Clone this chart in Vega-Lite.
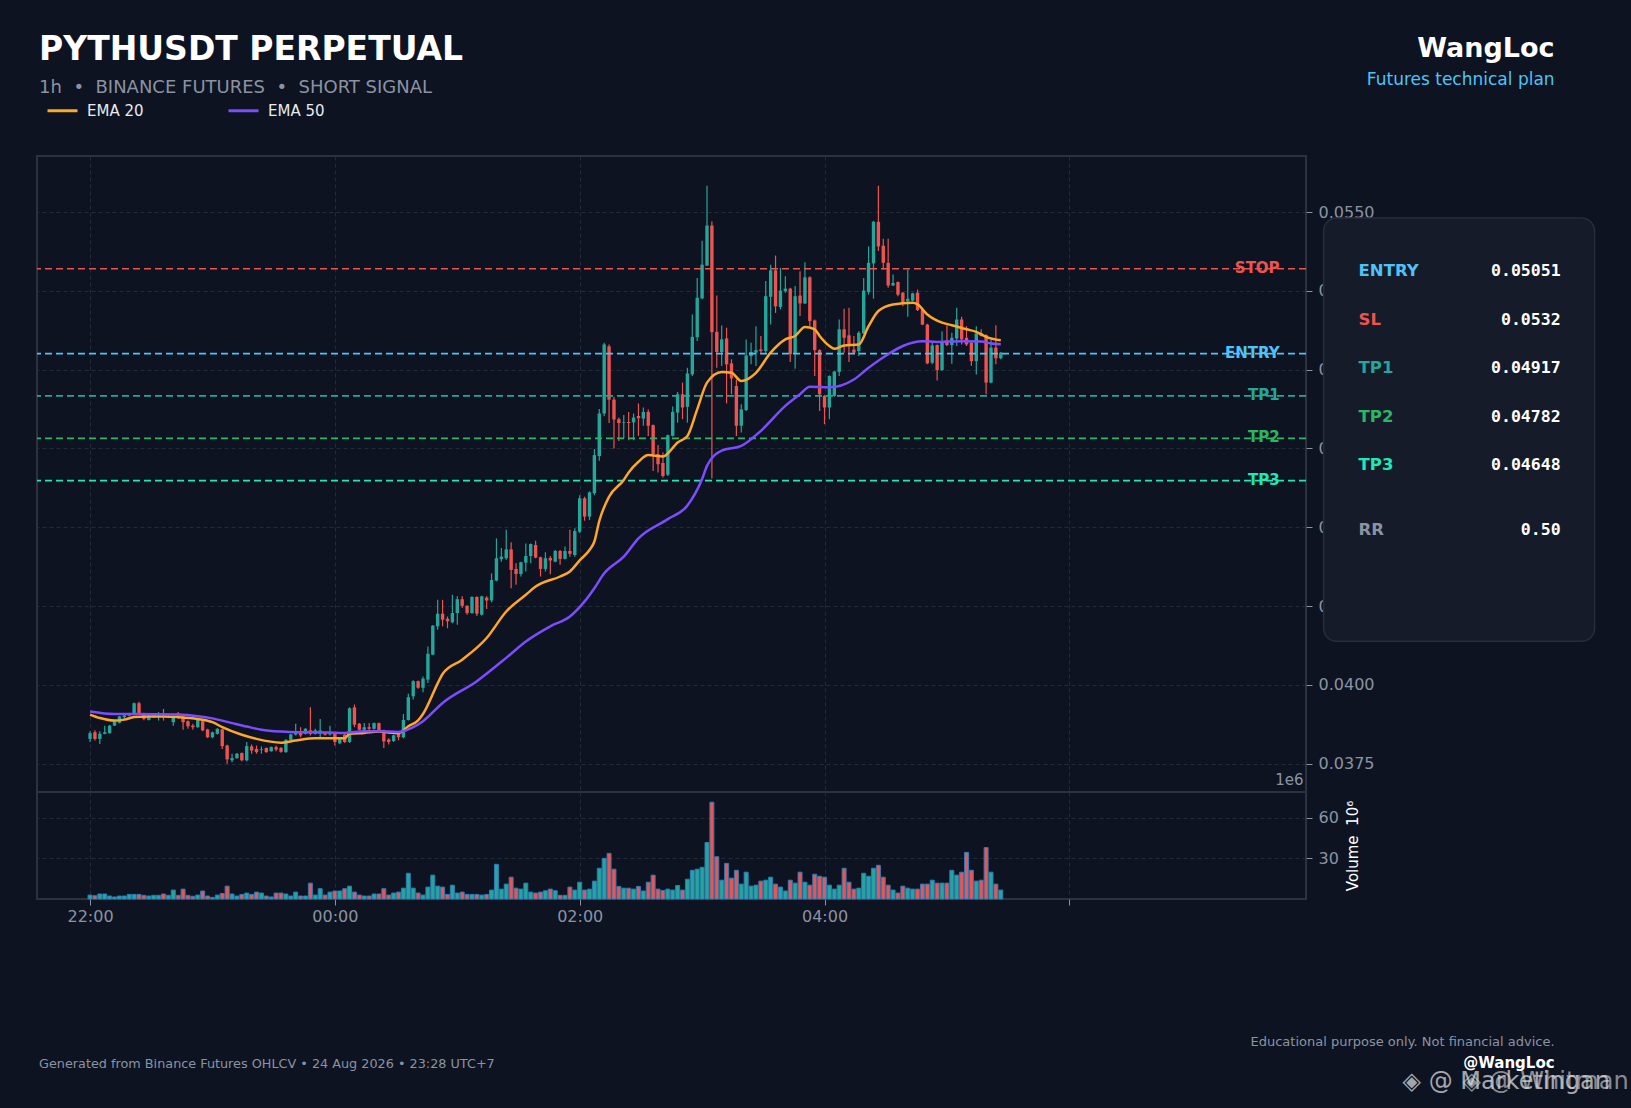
{
  "$schema": "https://vega.github.io/schema/vega-lite/v6.json",
  "background": "#0d1321",
  "padding": {"left": 35, "top": 32, "right": 2, "bottom": 14},
  "config": {
    "font": "DejaVu Sans",
    "view": {"stroke": "#2b3240", "strokeWidth": 2},
    "axis": {
      "domain": false,
      "gridColor": "#232a38",
      "gridDash": [4, 3],
      "labelColor": "#8b93a3",
      "labelFontSize": 16,
      "tickColor": "#8b93a3",
      "tickSize": 6,
      "labelPadding": 6,
      "titleColor": "#ffffff",
      "titleFontWeight": "normal"
    }
  },
  "datasets": {
    "candles": [
      {"t":"2026-08-24T22:00:00Z","o":0.03829,"h":0.03853,"l":0.03819,"c":0.03847,"v":2.9},
      {"t":"2026-08-24T22:02:24Z","o":0.03850,"h":0.03856,"l":0.03824,"c":0.03829,"v":2.4},
      {"t":"2026-08-24T22:04:48Z","o":0.03829,"h":0.03853,"l":0.03813,"c":0.03845,"v":3.7},
      {"t":"2026-08-24T22:07:12Z","o":0.03845,"h":0.03871,"l":0.03844,"c":0.03850,"v":3.7},
      {"t":"2026-08-24T22:09:36Z","o":0.03847,"h":0.03873,"l":0.03846,"c":0.03871,"v":2.2},
      {"t":"2026-08-24T22:12:00Z","o":0.03871,"h":0.03887,"l":0.03870,"c":0.03885,"v":1.5},
      {"t":"2026-08-24T22:14:24Z","o":0.03880,"h":0.03902,"l":0.03878,"c":0.03900,"v":2.2},
      {"t":"2026-08-24T22:16:48Z","o":0.03898,"h":0.03908,"l":0.03892,"c":0.03903,"v":2.2},
      {"t":"2026-08-24T22:19:12Z","o":0.03903,"h":0.03912,"l":0.03900,"c":0.03908,"v":3.4},
      {"t":"2026-08-24T22:21:36Z","o":0.03908,"h":0.03944,"l":0.03905,"c":0.03942,"v":3.4},
      {"t":"2026-08-24T22:24:00Z","o":0.03942,"h":0.03947,"l":0.03906,"c":0.03910,"v":3.4},
      {"t":"2026-08-24T22:26:24Z","o":0.03910,"h":0.03912,"l":0.03888,"c":0.03892,"v":2.7},
      {"t":"2026-08-24T22:28:48Z","o":0.03889,"h":0.03906,"l":0.03887,"c":0.03903,"v":2.2},
      {"t":"2026-08-24T22:31:12Z","o":0.03898,"h":0.03910,"l":0.03895,"c":0.03908,"v":2.7},
      {"t":"2026-08-24T22:33:36Z","o":0.03902,"h":0.03914,"l":0.03887,"c":0.03904,"v":2.7},
      {"t":"2026-08-24T22:36:00Z","o":0.03908,"h":0.03924,"l":0.03887,"c":0.03903,"v":3.7},
      {"t":"2026-08-24T22:38:24Z","o":0.03899,"h":0.03905,"l":0.03895,"c":0.03901,"v":2.7},
      {"t":"2026-08-24T22:40:48Z","o":0.03882,"h":0.03900,"l":0.03871,"c":0.03898,"v":6.6},
      {"t":"2026-08-24T22:43:12Z","o":0.03910,"h":0.03914,"l":0.03892,"c":0.03898,"v":2.7},
      {"t":"2026-08-24T22:45:36Z","o":0.03900,"h":0.03903,"l":0.03858,"c":0.03882,"v":7.3},
      {"t":"2026-08-24T22:48:00Z","o":0.03885,"h":0.03887,"l":0.03861,"c":0.03869,"v":2.7},
      {"t":"2026-08-24T22:50:24Z","o":0.03871,"h":0.03877,"l":0.03858,"c":0.03866,"v":2.0},
      {"t":"2026-08-24T22:52:48Z","o":0.03866,"h":0.03891,"l":0.03864,"c":0.03889,"v":2.9},
      {"t":"2026-08-24T22:55:12Z","o":0.03885,"h":0.03887,"l":0.03853,"c":0.03856,"v":5.9},
      {"t":"2026-08-24T22:57:36Z","o":0.03859,"h":0.03861,"l":0.03832,"c":0.03834,"v":2.2},
      {"t":"2026-08-24T23:00:00Z","o":0.03834,"h":0.03852,"l":0.03831,"c":0.03850,"v":1.2},
      {"t":"2026-08-24T23:02:24Z","o":0.03845,"h":0.03863,"l":0.03843,"c":0.03861,"v":2.9},
      {"t":"2026-08-24T23:04:48Z","o":0.03859,"h":0.03861,"l":0.03797,"c":0.03806,"v":4.1},
      {"t":"2026-08-24T23:07:12Z","o":0.03808,"h":0.03810,"l":0.03750,"c":0.03764,"v":9.5},
      {"t":"2026-08-24T23:09:36Z","o":0.03761,"h":0.03782,"l":0.03755,"c":0.03768,"v":3.7},
      {"t":"2026-08-24T23:12:00Z","o":0.03768,"h":0.03784,"l":0.03766,"c":0.03782,"v":2.2},
      {"t":"2026-08-24T23:14:24Z","o":0.03784,"h":0.03786,"l":0.03758,"c":0.03761,"v":3.4},
      {"t":"2026-08-24T23:16:48Z","o":0.03761,"h":0.03819,"l":0.03757,"c":0.03806,"v":4.4},
      {"t":"2026-08-24T23:19:12Z","o":0.03805,"h":0.03811,"l":0.03782,"c":0.03792,"v":3.4},
      {"t":"2026-08-24T23:21:36Z","o":0.03797,"h":0.03808,"l":0.03782,"c":0.03787,"v":5.1},
      {"t":"2026-08-24T23:24:00Z","o":0.03794,"h":0.03805,"l":0.03782,"c":0.03796,"v":4.4},
      {"t":"2026-08-24T23:26:24Z","o":0.03800,"h":0.03802,"l":0.03785,"c":0.03787,"v":2.2},
      {"t":"2026-08-24T23:28:48Z","o":0.03790,"h":0.03805,"l":0.03788,"c":0.03803,"v":1.5},
      {"t":"2026-08-24T23:31:12Z","o":0.03803,"h":0.03808,"l":0.03790,"c":0.03795,"v":4.4},
      {"t":"2026-08-24T23:33:36Z","o":0.03800,"h":0.03803,"l":0.03785,"c":0.03788,"v":4.4},
      {"t":"2026-08-24T23:36:00Z","o":0.03787,"h":0.03828,"l":0.03785,"c":0.03826,"v":3.7},
      {"t":"2026-08-24T23:38:24Z","o":0.03826,"h":0.03845,"l":0.03824,"c":0.03843,"v":2.2},
      {"t":"2026-08-24T23:40:48Z","o":0.03843,"h":0.03877,"l":0.03840,"c":0.03850,"v":5.1},
      {"t":"2026-08-24T23:43:12Z","o":0.03853,"h":0.03866,"l":0.03834,"c":0.03840,"v":2.2},
      {"t":"2026-08-24T23:45:36Z","o":0.03845,"h":0.03863,"l":0.03843,"c":0.03861,"v":2.2},
      {"t":"2026-08-24T23:48:00Z","o":0.03856,"h":0.03929,"l":0.03840,"c":0.03845,"v":11.7},
      {"t":"2026-08-24T23:50:24Z","o":0.03845,"h":0.03861,"l":0.03843,"c":0.03856,"v":2.9},
      {"t":"2026-08-24T23:52:48Z","o":0.03845,"h":0.03892,"l":0.03834,"c":0.03856,"v":7.6},
      {"t":"2026-08-24T23:55:12Z","o":0.03850,"h":0.03853,"l":0.03840,"c":0.03842,"v":2.9},
      {"t":"2026-08-24T23:57:36Z","o":0.03843,"h":0.03871,"l":0.03840,"c":0.03850,"v":5.1},
      {"t":"2026-08-25T00:00:00Z","o":0.03845,"h":0.03848,"l":0.03808,"c":0.03819,"v":5.9},
      {"t":"2026-08-25T00:02:24Z","o":0.03815,"h":0.03832,"l":0.03812,"c":0.03829,"v":5.9},
      {"t":"2026-08-25T00:04:48Z","o":0.03842,"h":0.03845,"l":0.03816,"c":0.03819,"v":7.6},
      {"t":"2026-08-25T00:07:12Z","o":0.03819,"h":0.03929,"l":0.03816,"c":0.03926,"v":9.5},
      {"t":"2026-08-25T00:09:36Z","o":0.03929,"h":0.03938,"l":0.03866,"c":0.03874,"v":5.1},
      {"t":"2026-08-25T00:12:00Z","o":0.03877,"h":0.03879,"l":0.03856,"c":0.03858,"v":2.9},
      {"t":"2026-08-25T00:14:24Z","o":0.03858,"h":0.03879,"l":0.03856,"c":0.03866,"v":2.2},
      {"t":"2026-08-25T00:16:48Z","o":0.03866,"h":0.03879,"l":0.03856,"c":0.03861,"v":2.2},
      {"t":"2026-08-25T00:19:12Z","o":0.03861,"h":0.03881,"l":0.03858,"c":0.03879,"v":3.7},
      {"t":"2026-08-25T00:21:36Z","o":0.03879,"h":0.03881,"l":0.03853,"c":0.03856,"v":3.7},
      {"t":"2026-08-25T00:24:00Z","o":0.03856,"h":0.03858,"l":0.03800,"c":0.03821,"v":7.6},
      {"t":"2026-08-25T00:26:24Z","o":0.03827,"h":0.03831,"l":0.03811,"c":0.03819,"v":2.9},
      {"t":"2026-08-25T00:28:48Z","o":0.03822,"h":0.03842,"l":0.03819,"c":0.03840,"v":4.4},
      {"t":"2026-08-25T00:31:12Z","o":0.03847,"h":0.03849,"l":0.03824,"c":0.03834,"v":5.1},
      {"t":"2026-08-25T00:33:36Z","o":0.03834,"h":0.03908,"l":0.03831,"c":0.03889,"v":8.0},
      {"t":"2026-08-25T00:36:00Z","o":0.03889,"h":0.03972,"l":0.03887,"c":0.03961,"v":19.0},
      {"t":"2026-08-25T00:38:24Z","o":0.03964,"h":0.04015,"l":0.03954,"c":0.04012,"v":8.0},
      {"t":"2026-08-25T00:40:48Z","o":0.04012,"h":0.04014,"l":0.03988,"c":0.03991,"v":4.4},
      {"t":"2026-08-25T00:43:12Z","o":0.03991,"h":0.04027,"l":0.03977,"c":0.04020,"v":2.9},
      {"t":"2026-08-25T00:45:36Z","o":0.04017,"h":0.04122,"l":0.04006,"c":0.04099,"v":8.8},
      {"t":"2026-08-25T00:48:00Z","o":0.04096,"h":0.04190,"l":0.04094,"c":0.04188,"v":17.6},
      {"t":"2026-08-25T00:50:24Z","o":0.04186,"h":0.04270,"l":0.04175,"c":0.04226,"v":9.5},
      {"t":"2026-08-25T00:52:48Z","o":0.04226,"h":0.04270,"l":0.04186,"c":0.04207,"v":8.8},
      {"t":"2026-08-25T00:55:12Z","o":0.04210,"h":0.04217,"l":0.04180,"c":0.04202,"v":3.4},
      {"t":"2026-08-25T00:57:36Z","o":0.04199,"h":0.04286,"l":0.04196,"c":0.04228,"v":10.2},
      {"t":"2026-08-25T01:00:00Z","o":0.04228,"h":0.04281,"l":0.04191,"c":0.04272,"v":4.4},
      {"t":"2026-08-25T01:02:24Z","o":0.04272,"h":0.04281,"l":0.04244,"c":0.04251,"v":5.1},
      {"t":"2026-08-25T01:04:48Z","o":0.04251,"h":0.04253,"l":0.04223,"c":0.04228,"v":3.4},
      {"t":"2026-08-25T01:07:12Z","o":0.04228,"h":0.04281,"l":0.04226,"c":0.04279,"v":3.4},
      {"t":"2026-08-25T01:09:36Z","o":0.04279,"h":0.04281,"l":0.04219,"c":0.04226,"v":3.4},
      {"t":"2026-08-25T01:12:00Z","o":0.04223,"h":0.04283,"l":0.04220,"c":0.04281,"v":2.9},
      {"t":"2026-08-25T01:14:24Z","o":0.04277,"h":0.04281,"l":0.04241,"c":0.04268,"v":3.4},
      {"t":"2026-08-25T01:16:48Z","o":0.04268,"h":0.04354,"l":0.04262,"c":0.04333,"v":6.6},
      {"t":"2026-08-25T01:19:12Z","o":0.04331,"h":0.04465,"l":0.04329,"c":0.04402,"v":25.6},
      {"t":"2026-08-25T01:21:36Z","o":0.04399,"h":0.04434,"l":0.04391,"c":0.04407,"v":7.3},
      {"t":"2026-08-25T01:24:00Z","o":0.04402,"h":0.04492,"l":0.04397,"c":0.04430,"v":11.0},
      {"t":"2026-08-25T01:26:24Z","o":0.04430,"h":0.04453,"l":0.04307,"c":0.04365,"v":16.1},
      {"t":"2026-08-25T01:28:48Z","o":0.04368,"h":0.04386,"l":0.04318,"c":0.04352,"v":8.0},
      {"t":"2026-08-25T01:31:12Z","o":0.04352,"h":0.04391,"l":0.04344,"c":0.04389,"v":7.3},
      {"t":"2026-08-25T01:33:36Z","o":0.04388,"h":0.04449,"l":0.04360,"c":0.04409,"v":11.7},
      {"t":"2026-08-25T01:36:00Z","o":0.04409,"h":0.04449,"l":0.04386,"c":0.04447,"v":5.1},
      {"t":"2026-08-25T01:38:24Z","o":0.04444,"h":0.04457,"l":0.04402,"c":0.04404,"v":4.4},
      {"t":"2026-08-25T01:40:48Z","o":0.04405,"h":0.04407,"l":0.04344,"c":0.04368,"v":5.1},
      {"t":"2026-08-25T01:43:12Z","o":0.04368,"h":0.04421,"l":0.04360,"c":0.04402,"v":6.1},
      {"t":"2026-08-25T01:45:36Z","o":0.04403,"h":0.04409,"l":0.04351,"c":0.04395,"v":7.3},
      {"t":"2026-08-25T01:48:00Z","o":0.04391,"h":0.04428,"l":0.04389,"c":0.04425,"v":6.1},
      {"t":"2026-08-25T01:50:24Z","o":0.04425,"h":0.04428,"l":0.04381,"c":0.04400,"v":2.7},
      {"t":"2026-08-25T01:52:48Z","o":0.04400,"h":0.04439,"l":0.04398,"c":0.04425,"v":2.7},
      {"t":"2026-08-25T01:55:12Z","o":0.04425,"h":0.04492,"l":0.04407,"c":0.04416,"v":8.8},
      {"t":"2026-08-25T01:57:36Z","o":0.04412,"h":0.04497,"l":0.04407,"c":0.04488,"v":6.6},
      {"t":"2026-08-25T02:00:00Z","o":0.04486,"h":0.04602,"l":0.04481,"c":0.04592,"v":12.4},
      {"t":"2026-08-25T02:02:24Z","o":0.04592,"h":0.04597,"l":0.04521,"c":0.04534,"v":6.6},
      {"t":"2026-08-25T02:04:48Z","o":0.04534,"h":0.04614,"l":0.04523,"c":0.04611,"v":7.3},
      {"t":"2026-08-25T02:07:12Z","o":0.04608,"h":0.04748,"l":0.04602,"c":0.04729,"v":13.2},
      {"t":"2026-08-25T02:09:36Z","o":0.04726,"h":0.04875,"l":0.04711,"c":0.04861,"v":22.7},
      {"t":"2026-08-25T02:12:00Z","o":0.04861,"h":0.05085,"l":0.04852,"c":0.05080,"v":30.0},
      {"t":"2026-08-25T02:14:24Z","o":0.05074,"h":0.05080,"l":0.04831,"c":0.04905,"v":33.7},
      {"t":"2026-08-25T02:16:48Z","o":0.04905,"h":0.04914,"l":0.04750,"c":0.04842,"v":22.0},
      {"t":"2026-08-25T02:19:12Z","o":0.04843,"h":0.04848,"l":0.04774,"c":0.04831,"v":9.3},
      {"t":"2026-08-25T02:21:36Z","o":0.04831,"h":0.04856,"l":0.04782,"c":0.04833,"v":8.0},
      {"t":"2026-08-25T02:24:00Z","o":0.04834,"h":0.04866,"l":0.04776,"c":0.04831,"v":8.0},
      {"t":"2026-08-25T02:26:24Z","o":0.04833,"h":0.04861,"l":0.04776,"c":0.04848,"v":7.3},
      {"t":"2026-08-25T02:28:48Z","o":0.04853,"h":0.04893,"l":0.04790,"c":0.04846,"v":9.3},
      {"t":"2026-08-25T02:31:12Z","o":0.04845,"h":0.04880,"l":0.04822,"c":0.04866,"v":5.9},
      {"t":"2026-08-25T02:33:36Z","o":0.04866,"h":0.04874,"l":0.04790,"c":0.04822,"v":12.4},
      {"t":"2026-08-25T02:36:00Z","o":0.04824,"h":0.04826,"l":0.04679,"c":0.04732,"v":17.6},
      {"t":"2026-08-25T02:38:24Z","o":0.04732,"h":0.04761,"l":0.04674,"c":0.04700,"v":7.3},
      {"t":"2026-08-25T02:40:48Z","o":0.04704,"h":0.04737,"l":0.04658,"c":0.04663,"v":6.3},
      {"t":"2026-08-25T02:43:12Z","o":0.04667,"h":0.04794,"l":0.04663,"c":0.04792,"v":7.3},
      {"t":"2026-08-25T02:45:36Z","o":0.04790,"h":0.04883,"l":0.04788,"c":0.04866,"v":6.6},
      {"t":"2026-08-25T02:48:00Z","o":0.04864,"h":0.04929,"l":0.04832,"c":0.04922,"v":10.0},
      {"t":"2026-08-25T02:50:24Z","o":0.04922,"h":0.04959,"l":0.04843,"c":0.04880,"v":6.6},
      {"t":"2026-08-25T02:52:48Z","o":0.04882,"h":0.05006,"l":0.04832,"c":0.04988,"v":14.6},
      {"t":"2026-08-25T02:55:12Z","o":0.04985,"h":0.05175,"l":0.04980,"c":0.05104,"v":21.2},
      {"t":"2026-08-25T02:57:36Z","o":0.05103,"h":0.05291,"l":0.05091,"c":0.05228,"v":22.0},
      {"t":"2026-08-25T03:00:00Z","o":0.05226,"h":0.05409,"l":0.05223,"c":0.05333,"v":23.4},
      {"t":"2026-08-25T03:02:24Z","o":0.05330,"h":0.05583,"l":0.05330,"c":0.05457,"v":41.7},
      {"t":"2026-08-25T03:04:48Z","o":0.05457,"h":0.05470,"l":0.04655,"c":0.05119,"v":71.5},
      {"t":"2026-08-25T03:07:12Z","o":0.05120,"h":0.05235,"l":0.05006,"c":0.05056,"v":31.2},
      {"t":"2026-08-25T03:09:36Z","o":0.05056,"h":0.05140,"l":0.05012,"c":0.05096,"v":13.9},
      {"t":"2026-08-25T03:12:00Z","o":0.05099,"h":0.05133,"l":0.04893,"c":0.05017,"v":26.3},
      {"t":"2026-08-25T03:14:24Z","o":0.05020,"h":0.05033,"l":0.04922,"c":0.04972,"v":15.4},
      {"t":"2026-08-25T03:16:48Z","o":0.04948,"h":0.04969,"l":0.04790,"c":0.04822,"v":21.2},
      {"t":"2026-08-25T03:19:12Z","o":0.04822,"h":0.04890,"l":0.04801,"c":0.04874,"v":11.0},
      {"t":"2026-08-25T03:21:36Z","o":0.04872,"h":0.05096,"l":0.04869,"c":0.05045,"v":19.8},
      {"t":"2026-08-25T03:24:00Z","o":0.05043,"h":0.05085,"l":0.05017,"c":0.05056,"v":9.5},
      {"t":"2026-08-25T03:26:24Z","o":0.05054,"h":0.05138,"l":0.05012,"c":0.05062,"v":10.2},
      {"t":"2026-08-25T03:28:48Z","o":0.05064,"h":0.05107,"l":0.05054,"c":0.05059,"v":13.2},
      {"t":"2026-08-25T03:31:12Z","o":0.05059,"h":0.05281,"l":0.05054,"c":0.05233,"v":13.9},
      {"t":"2026-08-25T03:33:36Z","o":0.05231,"h":0.05333,"l":0.05143,"c":0.05315,"v":16.1},
      {"t":"2026-08-25T03:36:00Z","o":0.05315,"h":0.05362,"l":0.05180,"c":0.05201,"v":11.0},
      {"t":"2026-08-25T03:38:24Z","o":0.05199,"h":0.05323,"l":0.05191,"c":0.05251,"v":8.8},
      {"t":"2026-08-25T03:40:48Z","o":0.05249,"h":0.05296,"l":0.05244,"c":0.05257,"v":5.9},
      {"t":"2026-08-25T03:43:12Z","o":0.05257,"h":0.05260,"l":0.05024,"c":0.05049,"v":13.9},
      {"t":"2026-08-25T03:45:36Z","o":0.05052,"h":0.05265,"l":0.05003,"c":0.05233,"v":11.7},
      {"t":"2026-08-25T03:48:00Z","o":0.05235,"h":0.05312,"l":0.05170,"c":0.05210,"v":19.8},
      {"t":"2026-08-25T03:50:24Z","o":0.05210,"h":0.05341,"l":0.05208,"c":0.05293,"v":12.4},
      {"t":"2026-08-25T03:52:48Z","o":0.05293,"h":0.05296,"l":0.05138,"c":0.05154,"v":10.2},
      {"t":"2026-08-25T03:55:12Z","o":0.05156,"h":0.05159,"l":0.04980,"c":0.05062,"v":18.3},
      {"t":"2026-08-25T03:57:36Z","o":0.05062,"h":0.05065,"l":0.04869,"c":0.04922,"v":16.8},
      {"t":"2026-08-25T04:00:00Z","o":0.04917,"h":0.04920,"l":0.04827,"c":0.04880,"v":16.1},
      {"t":"2026-08-25T04:02:24Z","o":0.04880,"h":0.04982,"l":0.04843,"c":0.04980,"v":10.2},
      {"t":"2026-08-25T04:04:48Z","o":0.04917,"h":0.04996,"l":0.04914,"c":0.04994,"v":7.3},
      {"t":"2026-08-25T04:07:12Z","o":0.04993,"h":0.05159,"l":0.04980,"c":0.05128,"v":10.2},
      {"t":"2026-08-25T04:09:36Z","o":0.05128,"h":0.05193,"l":0.05054,"c":0.05101,"v":22.7},
      {"t":"2026-08-25T04:12:00Z","o":0.05109,"h":0.05196,"l":0.05024,"c":0.05075,"v":12.4},
      {"t":"2026-08-25T04:14:24Z","o":0.05064,"h":0.05107,"l":0.05049,"c":0.05054,"v":7.3},
      {"t":"2026-08-25T04:16:48Z","o":0.05059,"h":0.05122,"l":0.05043,"c":0.05117,"v":8.0},
      {"t":"2026-08-25T04:19:12Z","o":0.05115,"h":0.05291,"l":0.05113,"c":0.05251,"v":19.0},
      {"t":"2026-08-25T04:21:36Z","o":0.05246,"h":0.05391,"l":0.05238,"c":0.05339,"v":16.8},
      {"t":"2026-08-25T04:24:00Z","o":0.05337,"h":0.05472,"l":0.05225,"c":0.05469,"v":22.7},
      {"t":"2026-08-25T04:26:24Z","o":0.05469,"h":0.05583,"l":0.05376,"c":0.05391,"v":24.9},
      {"t":"2026-08-25T04:28:48Z","o":0.05393,"h":0.05415,"l":0.05318,"c":0.05339,"v":16.1},
      {"t":"2026-08-25T04:31:12Z","o":0.05339,"h":0.05415,"l":0.05260,"c":0.05267,"v":10.2},
      {"t":"2026-08-25T04:33:36Z","o":0.05267,"h":0.05302,"l":0.05265,"c":0.05275,"v":6.6},
      {"t":"2026-08-25T04:36:00Z","o":0.05278,"h":0.05280,"l":0.05233,"c":0.05238,"v":4.4},
      {"t":"2026-08-25T04:38:24Z","o":0.05244,"h":0.05246,"l":0.05201,"c":0.05214,"v":9.5},
      {"t":"2026-08-25T04:40:48Z","o":0.05217,"h":0.05318,"l":0.05168,"c":0.05225,"v":8.0},
      {"t":"2026-08-25T04:43:12Z","o":0.05219,"h":0.05244,"l":0.05217,"c":0.05242,"v":7.3},
      {"t":"2026-08-25T04:45:36Z","o":0.05244,"h":0.05254,"l":0.05186,"c":0.05189,"v":7.3},
      {"t":"2026-08-25T04:48:00Z","o":0.05191,"h":0.05193,"l":0.05141,"c":0.05143,"v":11.0},
      {"t":"2026-08-25T04:50:24Z","o":0.05143,"h":0.05146,"l":0.05017,"c":0.05020,"v":11.0},
      {"t":"2026-08-25T04:52:48Z","o":0.05022,"h":0.05091,"l":0.05017,"c":0.05077,"v":13.9},
      {"t":"2026-08-25T04:55:12Z","o":0.05078,"h":0.05080,"l":0.04966,"c":0.04999,"v":11.7},
      {"t":"2026-08-25T04:57:36Z","o":0.04999,"h":0.05122,"l":0.04996,"c":0.05091,"v":11.7},
      {"t":"2026-08-25T05:00:00Z","o":0.05093,"h":0.05140,"l":0.05075,"c":0.05078,"v":11.7},
      {"t":"2026-08-25T05:02:24Z","o":0.05078,"h":0.05117,"l":0.05019,"c":0.05101,"v":21.2},
      {"t":"2026-08-25T05:04:48Z","o":0.05099,"h":0.05196,"l":0.05075,"c":0.05159,"v":17.6},
      {"t":"2026-08-25T05:07:12Z","o":0.05159,"h":0.05168,"l":0.05080,"c":0.05096,"v":19.8},
      {"t":"2026-08-25T05:09:36Z","o":0.05101,"h":0.05138,"l":0.05075,"c":0.05080,"v":34.4},
      {"t":"2026-08-25T05:12:00Z","o":0.05085,"h":0.05088,"l":0.05012,"c":0.05027,"v":21.2},
      {"t":"2026-08-25T05:14:24Z","o":0.05027,"h":0.05138,"l":0.04985,"c":0.05115,"v":13.2},
      {"t":"2026-08-25T05:16:48Z","o":0.05115,"h":0.05128,"l":0.05105,"c":0.05107,"v":13.9},
      {"t":"2026-08-25T05:19:12Z","o":0.05110,"h":0.05112,"l":0.04922,"c":0.04959,"v":38.0},
      {"t":"2026-08-25T05:21:36Z","o":0.04959,"h":0.05096,"l":0.04957,"c":0.05070,"v":19.8},
      {"t":"2026-08-25T05:24:00Z","o":0.05070,"h":0.05141,"l":0.05017,"c":0.05036,"v":11.0},
      {"t":"2026-08-25T05:26:24Z","o":0.05036,"h":0.05056,"l":0.05033,"c":0.05054,"v":6.6}
    ],
    "ema": [
      {"t":"2026-08-24T22:00:00Z","s":"EMA 20","v":0.03906},
      {"t":"2026-08-24T22:04:48Z","s":"EMA 20","v":0.03895},
      {"t":"2026-08-24T22:12:00Z","s":"EMA 20","v":0.03887},
      {"t":"2026-08-24T22:16:48Z","s":"EMA 20","v":0.03890},
      {"t":"2026-08-24T22:21:36Z","s":"EMA 20","v":0.03898},
      {"t":"2026-08-24T22:28:48Z","s":"EMA 20","v":0.03900},
      {"t":"2026-08-24T22:36:00Z","s":"EMA 20","v":0.03900},
      {"t":"2026-08-24T22:43:12Z","s":"EMA 20","v":0.03898},
      {"t":"2026-08-24T22:52:48Z","s":"EMA 20","v":0.03892},
      {"t":"2026-08-24T23:00:00Z","s":"EMA 20","v":0.03882},
      {"t":"2026-08-24T23:04:48Z","s":"EMA 20","v":0.03866},
      {"t":"2026-08-24T23:14:24Z","s":"EMA 20","v":0.03842},
      {"t":"2026-08-24T23:21:36Z","s":"EMA 20","v":0.03829},
      {"t":"2026-08-24T23:33:36Z","s":"EMA 20","v":0.03817},
      {"t":"2026-08-24T23:40:48Z","s":"EMA 20","v":0.03824},
      {"t":"2026-08-24T23:50:24Z","s":"EMA 20","v":0.03831},
      {"t":"2026-08-25T00:04:48Z","s":"EMA 20","v":0.03831},
      {"t":"2026-08-25T00:07:12Z","s":"EMA 20","v":0.03845},
      {"t":"2026-08-25T00:14:24Z","s":"EMA 20","v":0.03848},
      {"t":"2026-08-25T00:21:36Z","s":"EMA 20","v":0.03852},
      {"t":"2026-08-25T00:31:12Z","s":"EMA 20","v":0.03847},
      {"t":"2026-08-25T00:36:00Z","s":"EMA 20","v":0.03869},
      {"t":"2026-08-25T00:40:48Z","s":"EMA 20","v":0.03888},
      {"t":"2026-08-25T00:43:12Z","s":"EMA 20","v":0.03908},
      {"t":"2026-08-25T00:50:24Z","s":"EMA 20","v":0.04005},
      {"t":"2026-08-25T00:52:48Z","s":"EMA 20","v":0.04035},
      {"t":"2026-08-25T01:02:24Z","s":"EMA 20","v":0.04080},
      {"t":"2026-08-25T01:14:24Z","s":"EMA 20","v":0.04149},
      {"t":"2026-08-25T01:24:00Z","s":"EMA 20","v":0.04233},
      {"t":"2026-08-25T01:33:36Z","s":"EMA 20","v":0.04286},
      {"t":"2026-08-25T01:38:24Z","s":"EMA 20","v":0.04312},
      {"t":"2026-08-25T01:50:24Z","s":"EMA 20","v":0.04344},
      {"t":"2026-08-25T01:55:12Z","s":"EMA 20","v":0.04360},
      {"t":"2026-08-25T02:00:00Z","s":"EMA 20","v":0.04395},
      {"t":"2026-08-25T02:04:48Z","s":"EMA 20","v":0.04428},
      {"t":"2026-08-25T02:07:12Z","s":"EMA 20","v":0.04455},
      {"t":"2026-08-25T02:09:36Z","s":"EMA 20","v":0.04520},
      {"t":"2026-08-25T02:14:24Z","s":"EMA 20","v":0.04597},
      {"t":"2026-08-25T02:21:36Z","s":"EMA 20","v":0.04650},
      {"t":"2026-08-25T02:24:00Z","s":"EMA 20","v":0.04674},
      {"t":"2026-08-25T02:28:48Z","s":"EMA 20","v":0.04708},
      {"t":"2026-08-25T02:33:36Z","s":"EMA 20","v":0.04729},
      {"t":"2026-08-25T02:40:48Z","s":"EMA 20","v":0.04725},
      {"t":"2026-08-25T02:48:00Z","s":"EMA 20","v":0.04769},
      {"t":"2026-08-25T02:52:48Z","s":"EMA 20","v":0.04790},
      {"t":"2026-08-25T02:57:36Z","s":"EMA 20","v":0.04874},
      {"t":"2026-08-25T03:02:24Z","s":"EMA 20","v":0.04959},
      {"t":"2026-08-25T03:09:36Z","s":"EMA 20","v":0.04993},
      {"t":"2026-08-25T03:14:24Z","s":"EMA 20","v":0.04990},
      {"t":"2026-08-25T03:19:12Z","s":"EMA 20","v":0.04964},
      {"t":"2026-08-25T03:26:24Z","s":"EMA 20","v":0.04990},
      {"t":"2026-08-25T03:33:36Z","s":"EMA 20","v":0.05054},
      {"t":"2026-08-25T03:40:48Z","s":"EMA 20","v":0.05096},
      {"t":"2026-08-25T03:45:36Z","s":"EMA 20","v":0.05107},
      {"t":"2026-08-25T03:50:24Z","s":"EMA 20","v":0.05135},
      {"t":"2026-08-25T03:55:12Z","s":"EMA 20","v":0.05128},
      {"t":"2026-08-25T03:57:36Z","s":"EMA 20","v":0.05107},
      {"t":"2026-08-25T04:02:24Z","s":"EMA 20","v":0.05075},
      {"t":"2026-08-25T04:04:48Z","s":"EMA 20","v":0.05066},
      {"t":"2026-08-25T04:09:36Z","s":"EMA 20","v":0.05077},
      {"t":"2026-08-25T04:16:48Z","s":"EMA 20","v":0.05080},
      {"t":"2026-08-25T04:21:36Z","s":"EMA 20","v":0.05138},
      {"t":"2026-08-25T04:26:24Z","s":"EMA 20","v":0.05186},
      {"t":"2026-08-25T04:33:36Z","s":"EMA 20","v":0.05207},
      {"t":"2026-08-25T04:43:12Z","s":"EMA 20","v":0.05212},
      {"t":"2026-08-25T04:45:36Z","s":"EMA 20","v":0.05207},
      {"t":"2026-08-25T04:50:24Z","s":"EMA 20","v":0.05175},
      {"t":"2026-08-25T04:57:36Z","s":"EMA 20","v":0.05149},
      {"t":"2026-08-25T05:02:24Z","s":"EMA 20","v":0.05141},
      {"t":"2026-08-25T05:09:36Z","s":"EMA 20","v":0.05128},
      {"t":"2026-08-25T05:14:24Z","s":"EMA 20","v":0.05120},
      {"t":"2026-08-25T05:19:12Z","s":"EMA 20","v":0.05104},
      {"t":"2026-08-25T05:26:24Z","s":"EMA 20","v":0.05093},
      {"t":"2026-08-24T22:00:00Z","s":"EMA 50","v":0.03916},
      {"t":"2026-08-24T22:12:00Z","s":"EMA 50","v":0.03908},
      {"t":"2026-08-24T22:21:36Z","s":"EMA 50","v":0.03908},
      {"t":"2026-08-24T22:43:12Z","s":"EMA 50","v":0.03906},
      {"t":"2026-08-24T22:52:48Z","s":"EMA 50","v":0.03901},
      {"t":"2026-08-24T23:00:00Z","s":"EMA 50","v":0.03894},
      {"t":"2026-08-24T23:09:36Z","s":"EMA 50","v":0.03879},
      {"t":"2026-08-24T23:16:48Z","s":"EMA 50","v":0.03868},
      {"t":"2026-08-24T23:24:00Z","s":"EMA 50","v":0.03858},
      {"t":"2026-08-24T23:33:36Z","s":"EMA 50","v":0.03852},
      {"t":"2026-08-24T23:40:48Z","s":"EMA 50","v":0.03850},
      {"t":"2026-08-24T23:50:24Z","s":"EMA 50","v":0.03850},
      {"t":"2026-08-24T23:57:36Z","s":"EMA 50","v":0.03849},
      {"t":"2026-08-25T00:04:48Z","s":"EMA 50","v":0.03848},
      {"t":"2026-08-25T00:14:24Z","s":"EMA 50","v":0.03853},
      {"t":"2026-08-25T00:21:36Z","s":"EMA 50","v":0.03853},
      {"t":"2026-08-25T00:31:12Z","s":"EMA 50","v":0.03851},
      {"t":"2026-08-25T00:38:24Z","s":"EMA 50","v":0.03866},
      {"t":"2026-08-25T00:43:12Z","s":"EMA 50","v":0.03885},
      {"t":"2026-08-25T00:52:48Z","s":"EMA 50","v":0.03943},
      {"t":"2026-08-25T01:09:36Z","s":"EMA 50","v":0.04012},
      {"t":"2026-08-25T01:24:00Z","s":"EMA 50","v":0.04086},
      {"t":"2026-08-25T01:33:36Z","s":"EMA 50","v":0.04138},
      {"t":"2026-08-25T01:45:36Z","s":"EMA 50","v":0.04186},
      {"t":"2026-08-25T01:55:12Z","s":"EMA 50","v":0.04217},
      {"t":"2026-08-25T02:02:24Z","s":"EMA 50","v":0.04265},
      {"t":"2026-08-25T02:07:12Z","s":"EMA 50","v":0.04307},
      {"t":"2026-08-25T02:12:00Z","s":"EMA 50","v":0.04354},
      {"t":"2026-08-25T02:21:36Z","s":"EMA 50","v":0.04407},
      {"t":"2026-08-25T02:28:48Z","s":"EMA 50","v":0.04465},
      {"t":"2026-08-25T02:43:12Z","s":"EMA 50","v":0.04526},
      {"t":"2026-08-25T02:52:48Z","s":"EMA 50","v":0.04569},
      {"t":"2026-08-25T03:00:00Z","s":"EMA 50","v":0.04653},
      {"t":"2026-08-25T03:02:24Z","s":"EMA 50","v":0.04695},
      {"t":"2026-08-25T03:09:36Z","s":"EMA 50","v":0.04743},
      {"t":"2026-08-25T03:19:12Z","s":"EMA 50","v":0.04758},
      {"t":"2026-08-25T03:28:48Z","s":"EMA 50","v":0.04806},
      {"t":"2026-08-25T03:40:48Z","s":"EMA 50","v":0.04885},
      {"t":"2026-08-25T03:48:00Z","s":"EMA 50","v":0.04922},
      {"t":"2026-08-25T03:52:48Z","s":"EMA 50","v":0.04946},
      {"t":"2026-08-25T04:02:24Z","s":"EMA 50","v":0.04944},
      {"t":"2026-08-25T04:14:24Z","s":"EMA 50","v":0.04969},
      {"t":"2026-08-25T04:21:36Z","s":"EMA 50","v":0.05006},
      {"t":"2026-08-25T04:31:12Z","s":"EMA 50","v":0.05049},
      {"t":"2026-08-25T04:38:24Z","s":"EMA 50","v":0.05075},
      {"t":"2026-08-25T04:48:00Z","s":"EMA 50","v":0.05090},
      {"t":"2026-08-25T04:55:12Z","s":"EMA 50","v":0.05088},
      {"t":"2026-08-25T05:07:12Z","s":"EMA 50","v":0.05090},
      {"t":"2026-08-25T05:16:48Z","s":"EMA 50","v":0.05089},
      {"t":"2026-08-25T05:21:36Z","s":"EMA 50","v":0.05083},
      {"t":"2026-08-25T05:26:24Z","s":"EMA 50","v":0.05081}
    ],
    "levels": [
      {"name":"STOP","price":0.0532},
      {"name":"ENTRY","price":0.05051},
      {"name":"TP1","price":0.04917},
      {"name":"TP2","price":0.04782},
      {"name":"TP3","price":0.04648}
    ]
  },
  "spacing": 0,
  "bounds": "flush",
  "vconcat": [
    {
      "width": 1269,
      "height": 636,
      "layer": [
        {
          "data": {"name": "candles"},
          "mark": {"type": "rule", "strokeWidth": 1.2},
          "encoding": {
            "x": {
              "field": "t", "type": "temporal",
              "scale": {"type": "utc", "nice": false, "padding": 0, "domain": [{"year": 2026, "month": 8, "date": 24, "hours": 21, "minutes": 34, "utc": true}, {"year": 2026, "month": 8, "date": 25, "hours": 7, "minutes": 56, "utc": true}]},
              "axis": {"values": [{"year": 2026, "month": 8, "date": 24, "hours": 22, "utc": true}, {"year": 2026, "month": 8, "date": 25, "hours": 0, "utc": true}, {"year": 2026, "month": 8, "date": 25, "hours": 2, "utc": true}, {"year": 2026, "month": 8, "date": 25, "hours": 4, "utc": true}, {"year": 2026, "month": 8, "date": 25, "hours": 6, "utc": true}], "labels": false, "ticks": false, "title": null, "grid": true}
            },
            "y": {
              "field": "l", "type": "quantitative",
              "scale": {"domain": [0.036605, 0.056777], "nice": false, "zero": false, "padding": 0},
              "axis": {"orient": "right", "values": [0.0375, 0.04, 0.0425, 0.045, 0.0475, 0.05, 0.0525, 0.055], "format": ".4f", "title": null, "grid": true}
            },
            "y2": {"field": "h"},
            "color": {"condition": {"test": "datum.c >= datum.o", "value": "#26a69a"}, "value": "#ef5350"}
          }
        },
        {
          "data": {"name": "candles"},
          "mark": {"type": "bar", "size": 3.4},
          "encoding": {
            "x": {"field": "t", "type": "temporal"},
            "y": {"field": "o", "type": "quantitative"},
            "y2": {"field": "c"},
            "color": {"condition": {"test": "datum.c >= datum.o", "value": "#26a69a"}, "value": "#ef5350"}
          }
        },
        {
          "data": {"name": "levels"},
          "mark": {"type": "rule", "strokeDash": [7, 4], "strokeWidth": 1.6},
          "encoding": {
            "y": {"field": "price", "type": "quantitative"},
            "color": {"field": "name", "type": "nominal", "scale": {"domain": ["STOP", "ENTRY", "TP1", "TP2", "TP3"], "range": ["#ef5350", "#4fc3f7", "#26a69a", "#29b765", "#1de9b6"]}, "legend": null}
          }
        },
        {
          "data": {"name": "levels"},
          "mark": {"type": "text", "align": "right", "baseline": "middle", "dy": -1, "fontSize": 15, "fontWeight": "bold", "clip": false},
          "encoding": {
            "x": {"datum": {"year": 2026, "month": 8, "date": 25, "hours": 7, "minutes": 43, "seconds": 4, "utc": true}, "type": "temporal"},
            "y": {"field": "price", "type": "quantitative"},
            "text": {"field": "name"},
            "color": {"field": "name", "type": "nominal", "scale": {"domain": ["STOP", "ENTRY", "TP1", "TP2", "TP3"], "range": ["#ef5350", "#4fc3f7", "#26a69a", "#29b765", "#1de9b6"]}, "legend": null}
          }
        },
        {
          "data": {"name": "ema"},
          "mark": {"type": "line", "strokeWidth": 2.5, "interpolate": "monotone"},
          "encoding": {
            "x": {"field": "t", "type": "temporal"},
            "y": {"field": "v", "type": "quantitative"},
            "color": {
              "field": "s", "type": "nominal",
              "scale": {"domain": ["EMA 20", "EMA 50"], "range": ["#ffa726", "#7c4dff"]},
              "legend": {"orient": "none", "legendX": 9, "legendY": -62, "direction": "horizontal", "title": null, "symbolType": "stroke", "symbolStrokeWidth": 3, "symbolSize": 900, "labelColor": "#e8eaed", "labelFontSize": 15, "labelOffset": 8, "columnPadding": 78, "padding": 0}
            }
          }
        },
        {
          "data": {"values": [{}]},
          "mark": {"type": "text", "align": "right", "baseline": "middle", "fontSize": 15, "color": "#8b93a3", "clip": false},
          "encoding": {
            "x": {"datum": {"year": 2026, "month": 8, "date": 25, "hours": 7, "minutes": 54, "seconds": 49, "utc": true}, "type": "temporal"},
            "y": {"datum": 0.036973},
            "text": {"datum": "1e6"}
          }
        },
        {
          "data": {"values": [{}]},
          "mark": {"type": "rect", "fill": "#151b29", "stroke": "#262d3b", "strokeWidth": 1.5, "cornerRadius": 13, "clip": false},
          "encoding": {
            "x": {"datum": {"year": 2026, "month": 8, "date": 25, "hours": 8, "minutes": 4, "seconds": 37, "utc": true}, "type": "temporal"},
            "x2": {"datum": {"year": 2026, "month": 8, "date": 25, "hours": 10, "minutes": 17, "seconds": 27, "utc": true}},
            "y": {"datum": 0.05481},
            "y2": {"datum": 0.041384}
          }
        },
        {"data": {"values": [{}]}, "mark": {"type": "text", "align": "left", "baseline": "middle", "fontSize": 16.5, "fontWeight": "bold", "color": "#4fc3f7", "clip": false},
         "encoding": {"x": {"datum": {"year": 2026, "month": 8, "date": 25, "hours": 8, "minutes": 21, "seconds": 47, "utc": true}, "type": "temporal"}, "y": {"datum": 0.053127}, "text": {"datum": "ENTRY"}}},
        {"data": {"values": [{}]}, "mark": {"type": "text", "align": "left", "baseline": "middle", "fontSize": 16.5, "fontWeight": "bold", "color": "#ef5350", "clip": false},
         "encoding": {"x": {"datum": {"year": 2026, "month": 8, "date": 25, "hours": 8, "minutes": 21, "seconds": 47, "utc": true}, "type": "temporal"}, "y": {"datum": 0.051572}, "text": {"datum": "SL"}}},
        {"data": {"values": [{}]}, "mark": {"type": "text", "align": "left", "baseline": "middle", "fontSize": 16.5, "fontWeight": "bold", "color": "#26a69a", "clip": false},
         "encoding": {"x": {"datum": {"year": 2026, "month": 8, "date": 25, "hours": 8, "minutes": 21, "seconds": 47, "utc": true}, "type": "temporal"}, "y": {"datum": 0.050049}, "text": {"datum": "TP1"}}},
        {"data": {"values": [{}]}, "mark": {"type": "text", "align": "left", "baseline": "middle", "fontSize": 16.5, "fontWeight": "bold", "color": "#29b765", "clip": false},
         "encoding": {"x": {"datum": {"year": 2026, "month": 8, "date": 25, "hours": 8, "minutes": 21, "seconds": 47, "utc": true}, "type": "temporal"}, "y": {"datum": 0.048494}, "text": {"datum": "TP2"}}},
        {"data": {"values": [{}]}, "mark": {"type": "text", "align": "left", "baseline": "middle", "fontSize": 16.5, "fontWeight": "bold", "color": "#1de9b6", "clip": false},
         "encoding": {"x": {"datum": {"year": 2026, "month": 8, "date": 25, "hours": 8, "minutes": 21, "seconds": 47, "utc": true}, "type": "temporal"}, "y": {"datum": 0.04697}, "text": {"datum": "TP3"}}},
        {"data": {"values": [{}]}, "mark": {"type": "text", "align": "left", "baseline": "middle", "fontSize": 16.5, "fontWeight": "bold", "color": "#8b93a3", "clip": false},
         "encoding": {"x": {"datum": {"year": 2026, "month": 8, "date": 25, "hours": 8, "minutes": 21, "seconds": 47, "utc": true}, "type": "temporal"}, "y": {"datum": 0.044907}, "text": {"datum": "RR"}}},
        {"data": {"values": [{}]}, "mark": {"type": "text", "align": "right", "baseline": "middle", "font": "DejaVu Sans Mono", "fontSize": 16.5, "fontWeight": "bold", "color": "#ffffff", "clip": false},
         "encoding": {"x": {"datum": {"year": 2026, "month": 8, "date": 25, "hours": 10, "minutes": 0, "seconds": 47, "utc": true}, "type": "temporal"}, "y": {"datum": 0.053127}, "text": {"datum": "0.05051"}}},
        {"data": {"values": [{}]}, "mark": {"type": "text", "align": "right", "baseline": "middle", "font": "DejaVu Sans Mono", "fontSize": 16.5, "fontWeight": "bold", "color": "#ffffff", "clip": false},
         "encoding": {"x": {"datum": {"year": 2026, "month": 8, "date": 25, "hours": 10, "minutes": 0, "seconds": 47, "utc": true}, "type": "temporal"}, "y": {"datum": 0.051572}, "text": {"datum": "0.0532"}}},
        {"data": {"values": [{}]}, "mark": {"type": "text", "align": "right", "baseline": "middle", "font": "DejaVu Sans Mono", "fontSize": 16.5, "fontWeight": "bold", "color": "#ffffff", "clip": false},
         "encoding": {"x": {"datum": {"year": 2026, "month": 8, "date": 25, "hours": 10, "minutes": 0, "seconds": 47, "utc": true}, "type": "temporal"}, "y": {"datum": 0.050049}, "text": {"datum": "0.04917"}}},
        {"data": {"values": [{}]}, "mark": {"type": "text", "align": "right", "baseline": "middle", "font": "DejaVu Sans Mono", "fontSize": 16.5, "fontWeight": "bold", "color": "#ffffff", "clip": false},
         "encoding": {"x": {"datum": {"year": 2026, "month": 8, "date": 25, "hours": 10, "minutes": 0, "seconds": 47, "utc": true}, "type": "temporal"}, "y": {"datum": 0.048494}, "text": {"datum": "0.04782"}}},
        {"data": {"values": [{}]}, "mark": {"type": "text", "align": "right", "baseline": "middle", "font": "DejaVu Sans Mono", "fontSize": 16.5, "fontWeight": "bold", "color": "#ffffff", "clip": false},
         "encoding": {"x": {"datum": {"year": 2026, "month": 8, "date": 25, "hours": 10, "minutes": 0, "seconds": 47, "utc": true}, "type": "temporal"}, "y": {"datum": 0.04697}, "text": {"datum": "0.04648"}}},
        {"data": {"values": [{}]}, "mark": {"type": "text", "align": "right", "baseline": "middle", "font": "DejaVu Sans Mono", "fontSize": 16.5, "fontWeight": "bold", "color": "#ffffff", "clip": false},
         "encoding": {"x": {"datum": {"year": 2026, "month": 8, "date": 25, "hours": 10, "minutes": 0, "seconds": 47, "utc": true}, "type": "temporal"}, "y": {"datum": 0.044907}, "text": {"datum": "0.50"}}},
        {"data": {"values": [{}]}, "mark": {"type": "text", "align": "left", "baseline": "alphabetic", "fontSize": 33, "fontWeight": "bold", "color": "#ffffff", "clip": false},
         "encoding": {"x": {"datum": {"year": 2026, "month": 8, "date": 24, "hours": 21, "minutes": 35, "seconds": 2, "utc": true}, "type": "temporal"}, "y": {"datum": 0.059824}, "text": {"datum": "PYTHUSDT PERPETUAL"}}},
        {"data": {"values": [{}]}, "mark": {"type": "text", "align": "left", "baseline": "alphabetic", "fontSize": 18, "color": "#8b93a3", "clip": false},
         "encoding": {"x": {"datum": {"year": 2026, "month": 8, "date": 24, "hours": 21, "minutes": 35, "seconds": 2, "utc": true}, "type": "temporal"}, "y": {"datum": 0.058786}, "text": {"datum": "1h\u00a0\u00a0•\u00a0\u00a0BINANCE FUTURES\u00a0\u00a0•\u00a0\u00a0SHORT SIGNAL"}}},
        {"data": {"values": [{}]}, "mark": {"type": "text", "align": "right", "baseline": "alphabetic", "fontSize": 27, "fontWeight": "bold", "color": "#ffffff", "clip": false},
         "encoding": {"x": {"datum": {"year": 2026, "month": 8, "date": 25, "hours": 9, "minutes": 57, "seconds": 51, "utc": true}, "type": "temporal"}, "y": {"datum": 0.059919}, "text": {"datum": "WangLoc"}}},
        {"data": {"values": [{}]}, "mark": {"type": "text", "align": "right", "baseline": "alphabetic", "fontSize": 17, "color": "#4fc3f7", "clip": false},
         "encoding": {"x": {"datum": {"year": 2026, "month": 8, "date": 25, "hours": 9, "minutes": 57, "seconds": 51, "utc": true}, "type": "temporal"}, "y": {"datum": 0.059031}, "text": {"datum": "Futures technical plan"}}}
      ],
      "resolve": {"scale": {"color": "independent"}}
    },
    {
      "width": 1269,
      "height": 107,
      "layer": [
        {
          "data": {"name": "candles"},
          "mark": {"type": "bar", "size": 4, "stroke": "#2c7bb6", "strokeWidth": 1},
          "encoding": {
            "x": {
              "field": "t", "type": "temporal",
              "scale": {"type": "utc", "nice": false, "padding": 0, "domain": [{"year": 2026, "month": 8, "date": 24, "hours": 21, "minutes": 34, "utc": true}, {"year": 2026, "month": 8, "date": 25, "hours": 7, "minutes": 56, "utc": true}]},
              "axis": {"values": [{"year": 2026, "month": 8, "date": 24, "hours": 22, "utc": true}, {"year": 2026, "month": 8, "date": 25, "hours": 0, "utc": true}, {"year": 2026, "month": 8, "date": 25, "hours": 2, "utc": true}, {"year": 2026, "month": 8, "date": 25, "hours": 4, "utc": true}, {"year": 2026, "month": 8, "date": 25, "hours": 6, "utc": true}], "format": "%H:%M", "labelExpr": "datum.label == '06:00' ? '' : datum.label", "labelPadding": 3, "title": null, "grid": true}
            },
            "y": {
              "field": "v", "type": "quantitative",
              "scale": {"domain": [0, 79], "nice": false, "padding": 0},
              "axis": {"orient": "right", "values": [30, 60], "title": "Volume\u00a0\u00a010⁶", "titleAngle": 270, "titleBaseline": "top", "titleFontSize": 15, "titlePadding": 7, "grid": true}
            },
            "color": {"condition": {"test": "datum.c >= datum.o", "value": "#26a69a"}, "value": "#ef5350"}
          }
        },
        {"data": {"values": [{}]}, "mark": {"type": "text", "align": "left", "baseline": "middle", "fontSize": 12.8, "color": "#8b93a3", "clip": false},
         "encoding": {"x": {"datum": {"year": 2026, "month": 8, "date": 24, "hours": 21, "minutes": 35, "seconds": 0, "utc": true}, "type": "temporal"}, "y": {"datum": -122.1}, "text": {"datum": "Generated from Binance Futures OHLCV • 24 Aug 2026 • 23:28 UTC+7"}}},
        {"data": {"values": [{}]}, "mark": {"type": "text", "align": "right", "baseline": "middle", "fontSize": 13, "color": "#8b93a3", "clip": false},
         "encoding": {"x": {"datum": {"year": 2026, "month": 8, "date": 25, "hours": 9, "minutes": 57, "seconds": 51, "utc": true}, "type": "temporal"}, "y": {"datum": -105.9}, "text": {"datum": "Educational purpose only. Not financial advice."}}},
        {"data": {"values": [{}]}, "mark": {"type": "text", "align": "right", "baseline": "middle", "fontSize": 15, "fontWeight": "bold", "color": "#ffffff", "clip": false},
         "encoding": {"x": {"datum": {"year": 2026, "month": 8, "date": 25, "hours": 9, "minutes": 57, "seconds": 51, "utc": true}, "type": "temporal"}, "y": {"datum": -121.4}, "text": {"datum": "@WangLoc"}}},
        {"data": {"values": [{}]}, "mark": {"type": "text", "align": "left", "baseline": "middle", "fontSize": 24, "color": "#d6d8dc", "opacity": 0.75, "clip": false},
         "encoding": {"x": {"datum": {"year": 2026, "month": 8, "date": 25, "hours": 8, "minutes": 43, "seconds": 21, "utc": true}, "type": "temporal"}, "y": {"datum": -135.2}, "text": {"datum": "◈ @ Marketingan"}}},
        {"data": {"values": [{}]}, "mark": {"type": "text", "align": "left", "baseline": "middle", "fontSize": 24, "color": "#d6d8dc", "opacity": 0.6, "clip": false},
         "encoding": {"x": {"datum": {"year": 2026, "month": 8, "date": 25, "hours": 9, "minutes": 12, "seconds": 45, "utc": true}, "type": "temporal"}, "y": {"datum": -135.2}, "text": {"datum": "◈ @ Whitman"}}}
      ]
    }
  ]
}
